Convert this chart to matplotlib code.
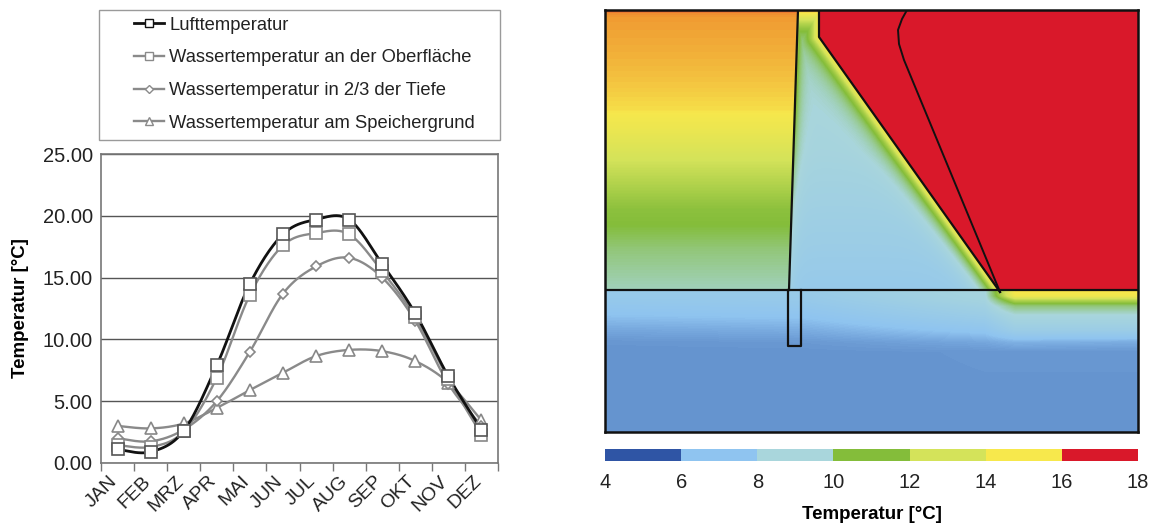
import numpy as np
import matplotlib
matplotlib.use("Agg")
import matplotlib.pyplot as plt
from matplotlib.colors import ListedColormap, BoundaryNorm, LinearSegmentedColormap, Normalize
from matplotlib.lines import Line2D
from matplotlib.patches import Rectangle
from matplotlib.cm import ScalarMappable
import matplotlib.transforms as mtransforms

plt.rcParams['font.family'] = ['Liberation Sans', 'DejaVu Sans']

# ---------------- data: monthly temperatures ----------------
months = ['JAN', 'FEB', 'MRZ', 'APR', 'MAI', 'JUN', 'JUL', 'AUG', 'SEP', 'OKT', 'NOV', 'DEZ']
luft = [1.1, 0.9, 2.6, 7.9, 14.5, 18.5, 19.7, 19.7, 16.1, 12.1, 7.0, 2.7]
oberflaeche = [1.45, 1.3, 2.55, 6.9, 13.6, 17.6, 18.6, 18.5, 15.5, 11.8, 6.8, 2.3]
tiefe = [2.0, 1.75, 2.7, 5.0, 9.0, 13.7, 15.9, 16.6, 15.0, 11.5, 6.4, 3.0]
grund = [3.0, 2.8, 3.2, 4.45, 5.9, 7.3, 8.65, 9.15, 9.05, 8.25, 6.5, 3.45]
series_names = ['Lufttemperatur', 'Wassertemperatur an der Oberfläche',
                'Wassertemperatur in 2/3 der Tiefe', 'Wassertemperatur am Speichergrund']
y_ticks = [0, 5, 10, 15, 20, 25]

# ---------------- data: temperature field (section) ----------------
cbar_bounds = [4, 6, 8, 10, 12, 14, 16, 18]
cbar_colors = ['#2f55a5', '#8fc4f0', '#a9d6dc', '#84bd3a', '#d4e35a', '#f7e84c', '#d9182a']
field_orange = '#f09a32'
# vertical temperature profile of the left soil column (depth below top, value)
left_depth = [0, 3, 8, 30, 55, 80, 100, 115, 150, 200, 215, 240, 280]
left_temp = [16.8, 16.1, 15.95, 15.8, 15.6, 15.35, 15.1, 14.5, 13.0, 11.2, 11.0, 10.2, 9.4]
# triangle (storage water) base profile
tri_depth = [0, 140, 280]
tri_temp = [9.3, 8.8, 7.6]
tri_edge_temp = 15.3
hot_temp = 17.6
# lower layer profiles (depth below separating line) at several horizontal positions
lower_pos = [0, 200, 380, 410, 533]
lower_depth = [0, 6, 10, 16, 25, 40, 52, 62, 142]
lower_temp = [
    [7.7, 7.6, 7.5, 7.3, 7.0, 6.5, 6.2, 6.15, 6.15],
    [7.8, 7.7, 7.6, 7.4, 7.1, 6.6, 6.25, 6.15, 6.15],
    [8.9, 8.8, 8.7, 8.4, 8.0, 7.2, 6.5, 6.2, 6.15],
    [15.2, 14.6, 12.3, 10.2, 9.0, 8.0, 6.7, 6.2, 6.15],
    [15.2, 14.6, 12.3, 10.2, 9.0, 8.0, 6.6, 6.2, 6.15],
]

# ---------------- geometry of section (model units) ----------------
W, H, HZ = 533, 422, 280
left_line = [(193, 0), (184, HZ)]
inner_line = [(214, 0), (214, 27), (395, 282)]
outer_line = [(302, 0), (297, 9), (293, 20), (294, 34), (299, 50), (395, 282)]
rect = [(183, HZ), (183, 336), (196, 336), (196, HZ)]

# ---------------- figure ----------------
fig = plt.figure(figsize=(11.53, 5.28), dpi=100)


def px(x0, y0, x1, y1):
    return [x0 / 1153, 1 - y1 / 528, (x1 - x0) / 1153, (y1 - y0) / 528]


ax = fig.add_axes(px(101, 154, 498, 463))


def smooth(x, y, n=25):
    pts = np.column_stack([x, y]).astype(float)
    P = np.vstack([pts[0], pts, pts[-1]])
    out = []
    for i in range(1, len(P) - 2):
        p0, p1, p2, p3 = P[i - 1], P[i], P[i + 1], P[i + 2]
        c1 = p1 + (p2 - p0) / 6
        c2 = p2 - (p3 - p1) / 6
        t = np.linspace(0, 1, n)[:, None]
        b = (1 - t) ** 3 * p1 + 3 * (1 - t) ** 2 * t * c1 + 3 * (1 - t) * t ** 2 * c2 + t ** 3 * p2
        out.append(b if i == 1 else b[1:])
    return np.vstack(out)


xc = np.arange(len(months)) + 0.5
styles = [
    dict(color='#111111', marker='s', lw=2.0, ms=8, mec='#555555'),
    dict(color='#8a8a8a', marker='s', lw=1.7, ms=8, mec='#888888'),
    dict(color='#8a8a8a', marker='D', lw=1.7, ms=5, mec='#888888'),
    dict(color='#8a8a8a', marker='^', lw=1.7, ms=8, mec='#888888'),
]
all_series = [luft, oberflaeche, tiefe, grund]
for vals, st in reversed(list(zip(all_series, styles))):
    c = smooth(xc, vals)
    ax.plot(c[:, 0], c[:, 1], color=st['color'], lw=st['lw'], zorder=3)
for vals, st in reversed(list(zip(all_series, styles))):
    ax.plot(xc, vals, ls='none', marker=st['marker'], ms=st['ms'], mfc='white',
            mec=st['mec'], mew=1.2, zorder=4)
handles = []
for st, name in zip(styles, series_names):
    handles.append(Line2D([], [], color=st['color'], lw=st['lw'], marker=st['marker'],
                          ms=st['ms'] * 0.75, mfc='white', mec=st['color'], mew=1.0, label=name))

ax.set_xlim(0, 12)
ax.set_ylim(0, 25)
ax.set_yticks(y_ticks)
ax.set_yticklabels([f'{v:.2f}' for v in y_ticks], fontsize=14.5, color='#222222')
ax.yaxis.grid(True, color='#555555', lw=1.0)
ax.set_axisbelow(True)
ax.tick_params(axis='y', length=0, pad=6)
ax.set_xticks(xc)
ax.set_xticklabels(months, rotation=45, ha='right', rotation_mode='anchor', fontsize=14, color='#222222')
ax.set_xticks(np.arange(0, 13), minor=True)
ax.tick_params(axis='x', which='major', length=0, pad=7)
ax.tick_params(axis='x', which='minor', length=6, color='#777777', width=1)
offset = mtransforms.ScaledTranslation(-9 / 100, 0, fig.dpi_scale_trans)
for lab in ax.get_xticklabels():
    lab.set_transform(lab.get_transform() + offset)
for s in ax.spines.values():
    s.set_color('#777777')
    s.set_linewidth(1.2)
ax.set_ylabel('Temperatur [°C]', fontsize=13.5, fontweight='bold', labelpad=10)

# legend: frame drawn separately, entries indented like the reference
frame = Rectangle((99 / 1153, 1 - 140 / 528), 401 / 1153, 130 / 528, transform=fig.transFigure,
                  facecolor='white', edgecolor='#9a9a9a', lw=1.0)
fig.patches.append(frame)
leg = fig.legend(handles=handles, loc='upper left', bbox_to_anchor=(128 / 1153, 1 - 11 / 528),
                 fontsize=13.2, frameon=False, handlelength=1.65, handletextpad=0.3,
                 labelspacing=0.86, borderpad=0.3, borderaxespad=0)
for t in leg.get_texts():
    t.set_color('#222222')

# ---------------- temperature field ----------------
axr = fig.add_axes(px(605, 10, 1138, 432))
xs = np.arange(W) + 0.5
ys = np.arange(H) + 0.5
X, Y = np.meshgrid(xs, ys)


def seg_dist(X, Y, a, b):
    ax_, ay = a
    bx, by = b
    dx, dy = bx - ax_, by - ay
    t = np.clip(((X - ax_) * dx + (Y - ay) * dy) / (dx * dx + dy * dy), 0, 1)
    return np.hypot(X - (ax_ + t * dx), Y - (ay + t * dy))


x_left = left_line[0][0] + (left_line[1][0] - left_line[0][0]) * Y / HZ
(p0, p1, p2) = inner_line
x_inner = np.where(Y < p1[1], p0[0], p1[0] + (Y - p1[1]) * (p2[0] - p1[0]) / (p2[1] - p1[1]))
d_inner = np.minimum(seg_dist(X, Y, p0, p1), seg_dist(X, Y, p1, p2))

upper = Y < HZ
leftT = np.interp(Y, left_depth, left_temp)
baseT = np.interp(Y, tri_depth, tri_temp)
tri = baseT + (tri_edge_temp - baseT) * np.exp(-d_inner / 9.5)
tri = np.maximum(tri, baseT + (16.2 - baseT) * np.exp(-Y / 16.0))
dL = np.abs(X - x_left)
tri = np.maximum(tri, baseT + (leftT - baseT) * 0.45 * np.exp(-dL / 5.0))

T = np.where(X < x_left, leftT, np.where(X < x_inner, tri, hot_temp))
# lower layer
dd = np.clip(ys - HZ, 0, None)
prof = np.array([np.interp(dd, lower_depth, row) for row in lower_temp])  # (npos, H)
lp = np.array(lower_pos, dtype=float)
w_idx = np.clip(np.searchsorted(lp, xs, side='right') - 1, 0, len(lp) - 2)
frac = np.clip((xs - lp[w_idx]) / (lp[w_idx + 1] - lp[w_idx]), 0, 1)
lowT = prof[w_idx, :].T * (1 - frac) + prof[w_idx + 1, :].T * frac
T = np.where(upper, T, lowT)

pos = [(v - 4) / 14 for v in [4, 5, 7, 9, 11, 13, 15, 16, 17, 18]]
cols = [cbar_colors[0], cbar_colors[0], cbar_colors[1], cbar_colors[2], cbar_colors[3],
        cbar_colors[4], cbar_colors[5], field_orange, cbar_colors[6], cbar_colors[6]]
field_cmap = LinearSegmentedColormap.from_list('field', list(zip(pos, cols)))
axr.imshow(T, cmap=field_cmap, norm=Normalize(4, 18), extent=(0, W, H, 0),
           interpolation='bilinear', aspect='auto')
axr.set_xlim(0, W)
axr.set_ylim(H, 0)
axr.set_xticks([])
axr.set_yticks([])
for s in axr.spines.values():
    s.set_linewidth(1.8)
    s.set_color('#111111')
lc = '#111111'
axr.plot([0, W], [HZ, HZ], color=lc, lw=1.6)
axr.plot(*zip(*left_line), color=lc, lw=1.6)
axr.plot(*zip(*inner_line), color=lc, lw=1.6)
axr.plot(*zip(*outer_line), color=lc, lw=1.4)
axr.plot(*zip(*rect), color=lc, lw=1.6)

# ---------------- colorbar ----------------
cax = fig.add_axes(px(605, 449, 1138, 461))
cmap = ListedColormap(cbar_colors)
norm = BoundaryNorm(cbar_bounds, cmap.N)
cb = fig.colorbar(ScalarMappable(norm=norm, cmap=cmap), cax=cax, orientation='horizontal',
                  ticks=cbar_bounds)
cb.outline.set_visible(False)
cax.tick_params(length=0, labelsize=14.5, pad=9, labelcolor='#222222')
cb.set_label('Temperatur [°C]', fontsize=13.5, fontweight='bold', labelpad=10)

fig.savefig('out.png', dpi=100)
